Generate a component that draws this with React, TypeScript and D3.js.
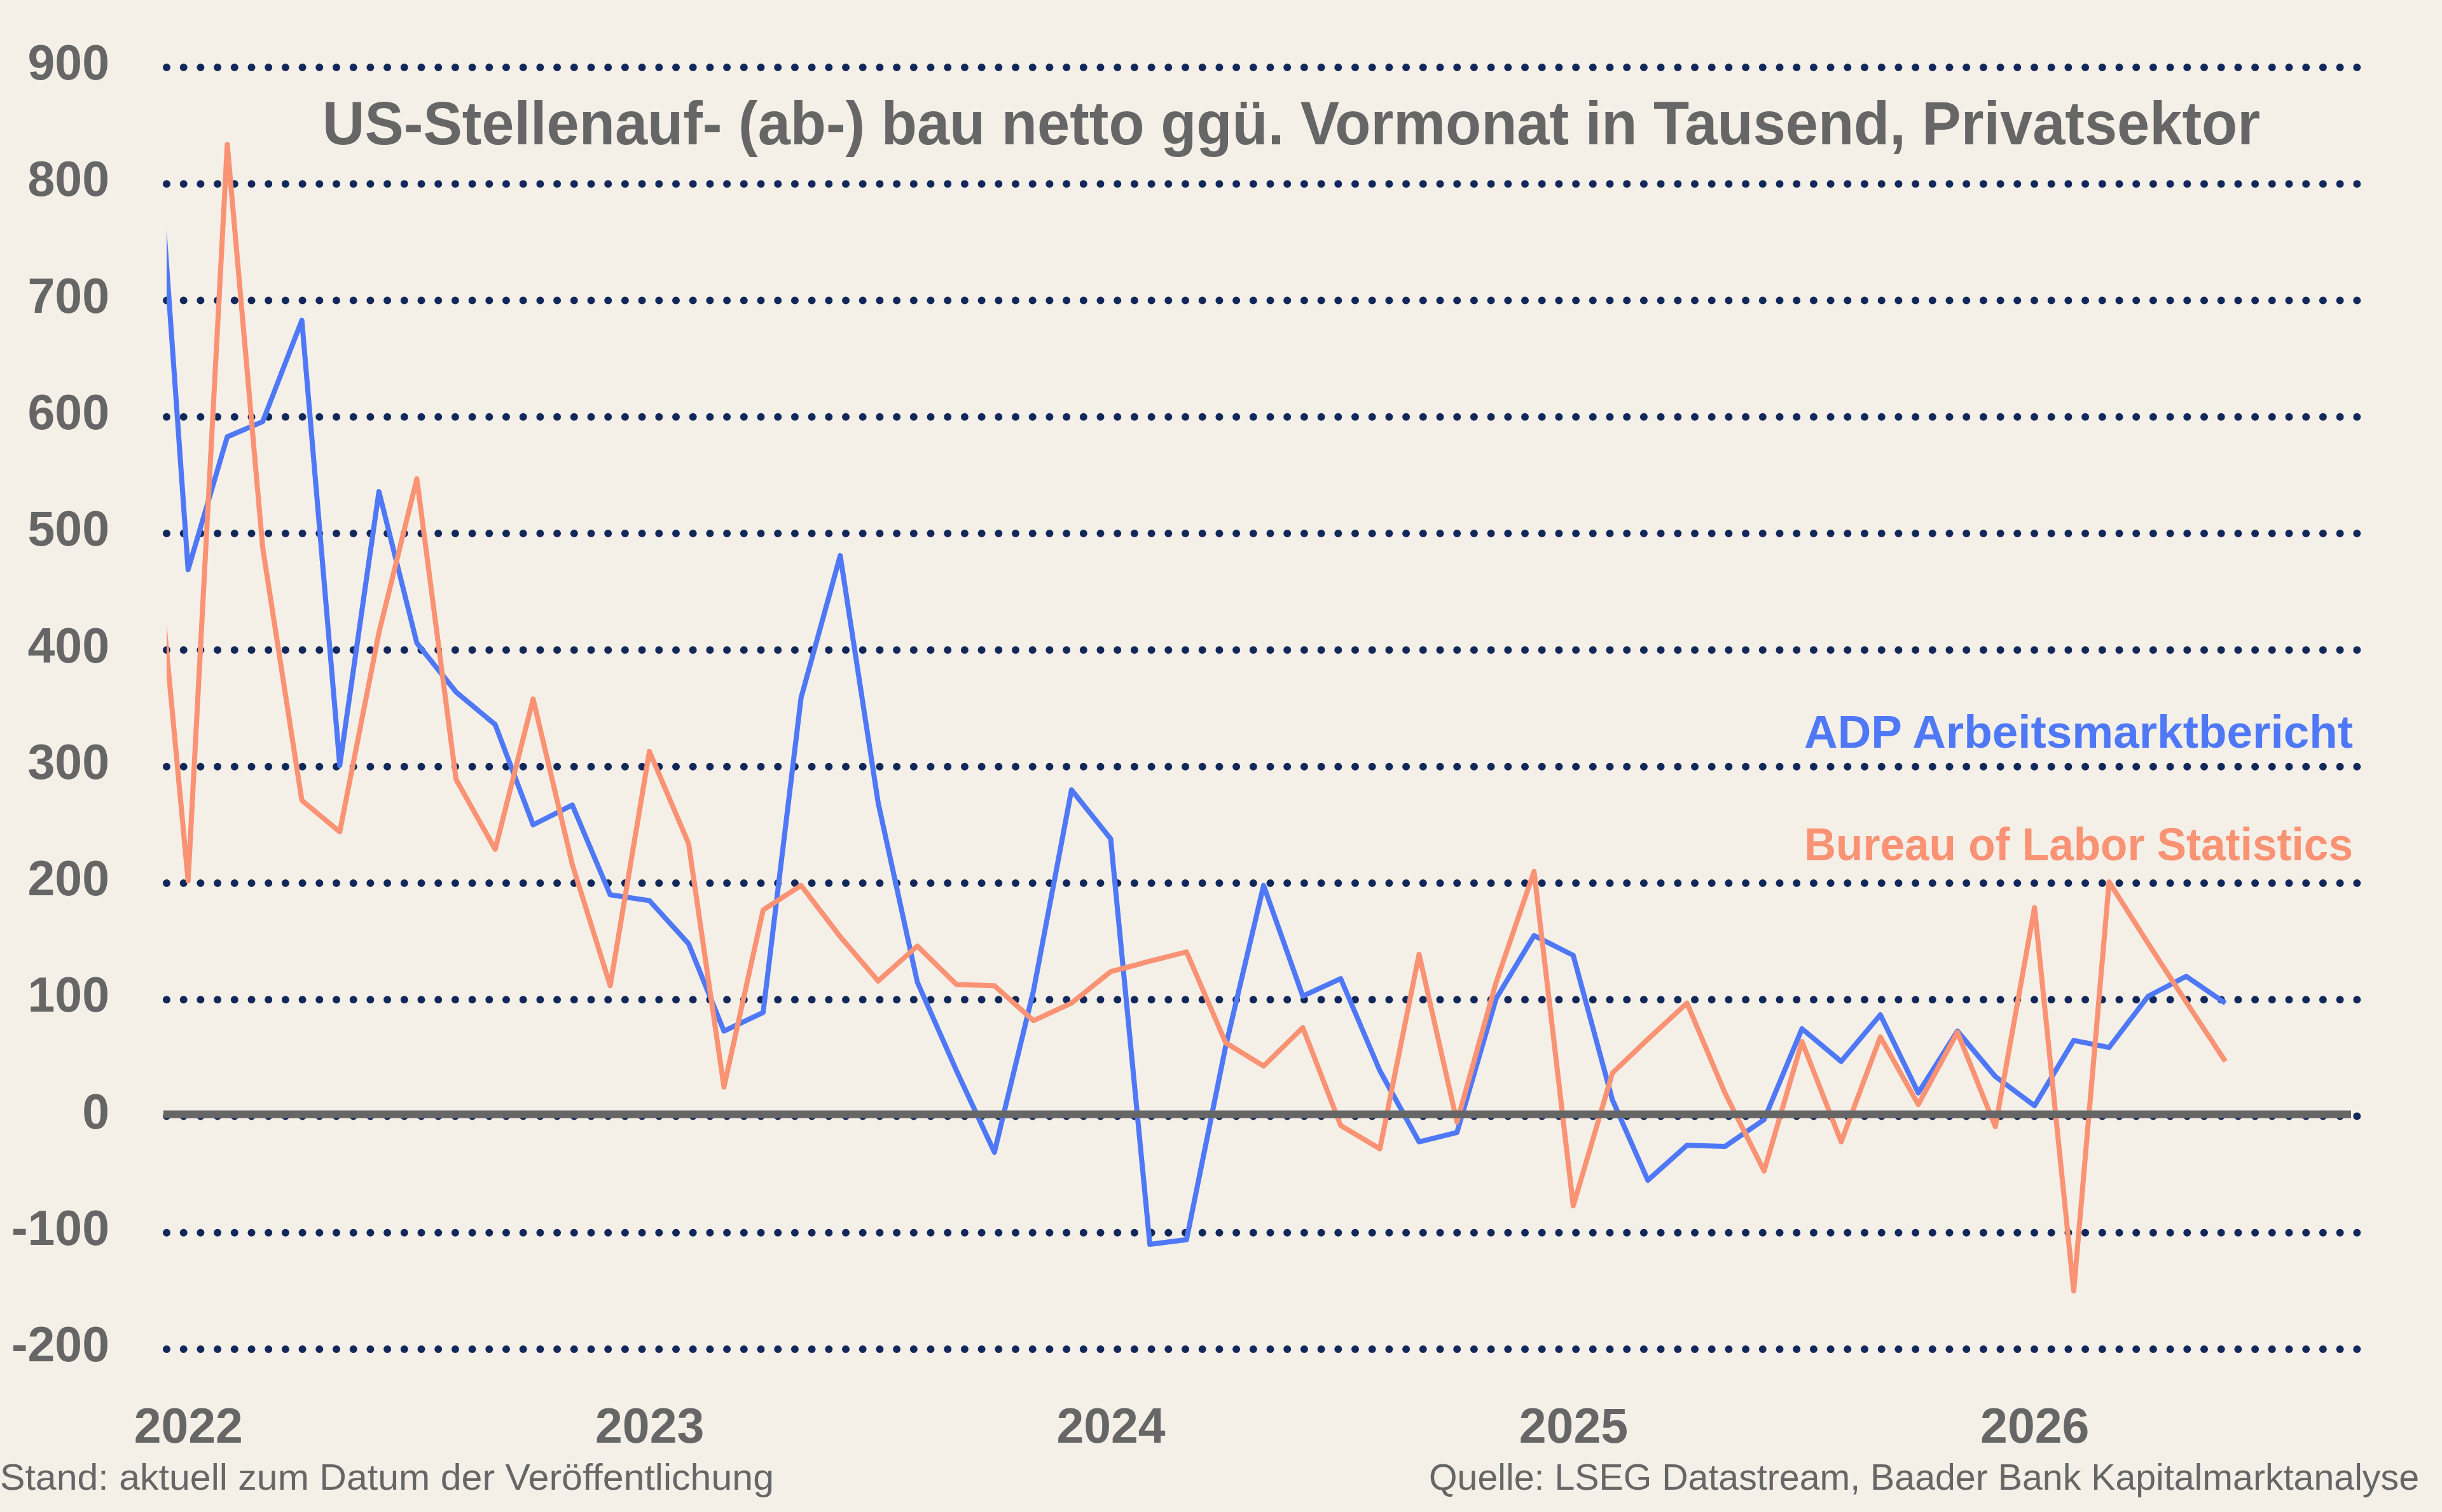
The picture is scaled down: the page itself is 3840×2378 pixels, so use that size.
import React, { useEffect, useRef } from 'react';
import * as d3 from 'd3';

// monthly values, Dec 2021 .. Jun 2026 (first point sits left of the visible area)
const months = d3.utcMonth.range(new Date(Date.UTC(2021, 11, 1)), new Date(Date.UTC(2026, 6, 1)));

const adpValues = [
  945, 469, 583, 596, 683, 301, 536, 406, 364, 336, 250, 267, 190,
  185, 148, 73, 89, 359, 481, 269, 115, 39, -31, 108, 280, 238,
  -110, -106, 60, 198, 103, 118, 39, -22, -14, 101, 155, 138,
  14, -55, -25, -26, -3, 75, 47, 87, 20, 73, 34, 9,
  65, 59, 103, 120, 97
];

const blsValues = [
  562, 202, 834, 488, 271, 244, 415, 547, 289, 229, 358, 216, 112,
  313, 234, 25, 177, 198, 154, 116, 146, 113, 112, 82, 97, 124,
  133, 141, 63, 43, 76, -8, -28, 139, -5, 115, 210, -77,
  37, 66, 97, 20, -47, 64, -22, 68, 10, 72, -9, 179,
  -150, 201, 148, 98, 47
];

const yTicks = [-200, -100, 0, 100, 200, 300, 400, 500, 600, 700, 800, 900];
const yearTicks = [2022, 2023, 2024, 2025, 2026];
const seriesNames = ['ADP Arbeitsmarktbericht', 'Bureau of Labor Statistics'];
const seriesColors = ['#4f78f6', '#fa9274'];

const title = 'US-Stellenauf- (ab-) bau netto ggü. Vormonat in Tausend, Privatsektor';
const noteLeft = 'Stand: aktuell zum Datum der Veröffentlichung';
const noteRight = 'Quelle: LSEG Datastream, Baader Bank Kapitalmarktanalyse';

const FONT = '"Liberation Sans", Arial, sans-serif';
const GREY = '#666666';

export default function App() {
  const ref = useRef<SVGSVGElement>(null);

  useEffect(() => {
    const svg = d3.select(ref.current);
    svg.selectAll('*').remove();

    const width = 3840, height = 2378;
    const left = 262, right = 3710;

    svg.append('rect')
      .attr('width', width)
      .attr('height', height)
      .attr('fill', '#f4f0e8');

    const x = d3.scaleUtc()
      .domain([new Date(Date.UTC(2021, 11, 15)), new Date(Date.UTC(2026, 8, 15))])
      .range([left, right]);

    const y = d3.scaleLinear()
      .domain([-200, 900])
      .range([2122, 106]);

    // dotted grid
    svg.selectAll('line.grid')
      .data(yTicks)
      .enter()
      .append('line')
      .attr('class', 'grid')
      .attr('x1', left)
      .attr('x2', right)
      .attr('y1', d => y(d))
      .attr('y2', d => y(d))
      .attr('stroke', '#13285a')
      .attr('stroke-width', 12)
      .attr('stroke-linecap', 'round')
      .attr('stroke-dasharray', '0 26.7');

    // y labels
    const yAxis = svg.append('g')
      .attr('transform', 'translate(172,-6)')
      .call(d3.axisLeft(y).tickValues(yTicks).tickSize(0).tickPadding(0).tickFormat(d => String(d)));
    yAxis.select('.domain').remove();
    yAxis.selectAll('text')
      .attr('font-family', FONT)
      .attr('font-weight', 'bold')
      .attr('font-size', 77)
      .attr('fill', GREY);

    // year labels
    const xAxis = svg.append('g')
      .attr('transform', 'translate(0,2214)')
      .call(d3.axisBottom(x)
        .tickValues(yearTicks.map(yr => new Date(Date.UTC(yr, 0, 1))))
        .tickSize(0).tickPadding(0)
        .tickFormat(d3.utcFormat('%Y')));
    xAxis.select('.domain').remove();
    xAxis.selectAll('text')
      .attr('font-family', FONT)
      .attr('font-weight', 'bold')
      .attr('font-size', 77)
      .attr('fill', GREY);

    // series
    svg.append('clipPath')
      .attr('id', 'plot-clip')
      .append('rect')
      .attr('x', left)
      .attr('y', 0)
      .attr('width', right - left)
      .attr('height', height);

    const line = d3.line<number>()
      .x((d, i) => x(months[i]))
      .y(d => y(d));

    [adpValues, blsValues].forEach((vals, k) => {
      svg.append('path')
        .attr('d', line(vals))
        .attr('clip-path', 'url(#plot-clip)')
        .attr('fill', 'none')
        .attr('stroke', seriesColors[k])
        .attr('stroke-width', 8)
        .attr('stroke-linejoin', 'round');
    });

    // zero line, on top of the series
    svg.append('line')
      .attr('x1', 257)
      .attr('x2', 3697)
      .attr('y1', y(0) - 3)
      .attr('y2', y(0) - 3)
      .attr('stroke', GREY)
      .attr('stroke-width', 12);

    // legend
    svg.selectAll('text.legend')
      .data(seriesNames)
      .enter()
      .append('text')
      .attr('class', 'legend')
      .attr('x', 3700)
      .attr('y', (d, i) => [1176, 1353][i])
      .attr('text-anchor', 'end')
      .attr('font-family', FONT)
      .attr('font-weight', 'bold')
      .attr('font-size', 72)
      .attr('textLength', 863)
      .attr('lengthAdjust', 'spacingAndGlyphs')
      .attr('fill', (d, i) => seriesColors[i])
      .text(d => d);

    // title
    svg.append('text')
      .attr('x', 507)
      .attr('y', 227)
      .attr('font-family', FONT)
      .attr('font-weight', 'bold')
      .attr('font-size', 96)
      .attr('textLength', 3047)
      .attr('lengthAdjust', 'spacingAndGlyphs')
      .attr('fill', GREY)
      .text(title);

    // footers
    svg.append('text')
      .attr('x', 0)
      .attr('y', 2343)
      .attr('font-family', FONT)
      .attr('font-size', 58)
      .attr('textLength', 1217)
      .attr('lengthAdjust', 'spacingAndGlyphs')
      .attr('fill', GREY)
      .text(noteLeft);

    svg.append('text')
      .attr('x', 2247)
      .attr('y', 2343)
      .attr('font-family', FONT)
      .attr('font-size', 58)
      .attr('textLength', 1557)
      .attr('lengthAdjust', 'spacingAndGlyphs')
      .attr('fill', GREY)
      .text(noteRight);
  }, []);

  return (
    <div style={{ position: 'absolute', left: 0, top: 0 }}>
      <svg ref={ref} width={3840} height={2378} style={{ display: 'block' }} />
    </div>
  );
}
